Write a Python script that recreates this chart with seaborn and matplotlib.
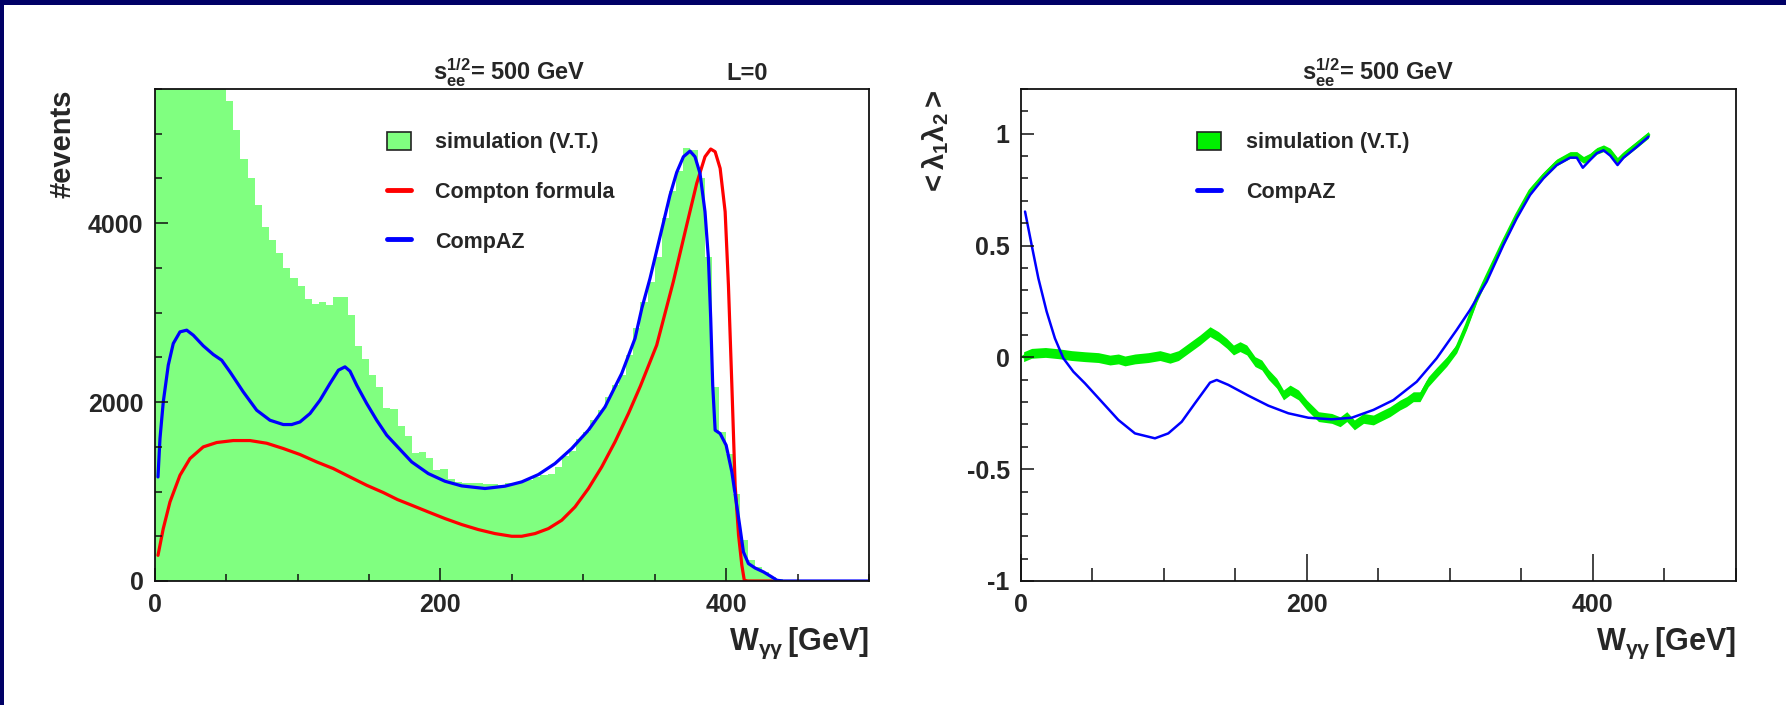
import numpy as np
import pandas as pd
import seaborn as sns
import matplotlib
matplotlib.use("Agg")
import matplotlib.pyplot as plt
from matplotlib.ticker import MultipleLocator, FuncFormatter
from matplotlib.patches import Patch, Rectangle
from matplotlib.lines import Line2D

# ---------------- data ----------------
# photon-photon invariant mass histogram, 5 GeV bins from 0 to 500 GeV
bin_edges = np.arange(0, 505, 5)
sim_counts = [9800, 8900, 8200, 7600, 7100, 6700, 6300, 6000, 5800, 5600,
              5366, 5041, 4717, 4508, 4203, 3956, 3811, 3662, 3498, 3382,
              3293, 3151, 3091, 3114, 3088, 3174, 3174, 2972, 2629, 2487,
              2308, 2170, 1935, 1928, 1734, 1619, 1432, 1443, 1376, 1246,
              1250, 1145, 1108, 1100, 1100, 1090, 1086, 1079, 1071, 1090,
              1100, 1115, 1133, 1163, 1189, 1200, 1275, 1398, 1450, 1592,
              1667, 1797, 1909, 2058, 2189, 2301, 2525, 2823, 3121, 3345,
              3624, 4053, 4359, 4583, 4844, 4818, 4508, 3624, 2170, 1667,
              1425, 977, 455, 232, 157, 101, 45, 19, 0, 0,
              0, 0, 0, 0, 0, 0, 0, 0, 0, 0]

compaz_x = [2.3, 3.7, 6.0, 9.5, 13.0, 17.7, 22.4, 27.0, 34.0, 41.0, 46.9, 52.7,
            62.0, 71.4, 80.7, 90.0, 95.9, 101.7, 108.7, 115.7, 122.7, 128.6,
            133.2, 136.7, 141.4, 148.4, 155.4, 162.4, 170.0, 179.9, 191.5,
            203.2, 214.9, 231.2, 245.2, 256.9, 268.6, 280.2, 291.9, 303.6,
            315.2, 326.9, 336.2, 341.0, 346.7, 353.7, 360.7, 365.4, 370.1,
            374.7, 378.2, 381.7, 385.2, 387.6, 389.2, 390.6, 392.3, 395.8,
            400.0, 404.0, 407.4, 409.8, 412.1, 415.6, 420.3, 426.2, 432.0,
            435.6, 440.0, 500.0]
compaz_y = [1163, 1593, 2002, 2413, 2655, 2785, 2804, 2748, 2629, 2532, 2468, 2338,
            2114, 1909, 1797, 1749, 1749, 1778, 1872, 2021, 2208, 2357,
            2394, 2346, 2189, 1984, 1797, 1630, 1500, 1331, 1201,
            1115, 1063, 1034, 1060, 1108, 1190, 1313, 1481, 1686,
            1946, 2320, 2711, 3050, 3382, 3848, 4314, 4568, 4743,
            4806, 4743, 4557, 4128, 3606, 2935, 2189, 1686, 1648,
            1518, 1219, 847, 586, 324, 195, 145, 101, 45,
            8, 0, 0]

compton_x = [2.3, 6.0, 10.7, 17.7, 24.7, 34.0, 43.4, 55.0, 66.7, 78.4, 90.0, 101.7,
             113.4, 125.0, 136.7, 148.4, 160.0, 170.0, 179.9, 191.5, 203.2, 214.9,
             226.5, 238.2, 249.9, 256.9, 266.2, 275.6, 284.9, 294.2, 303.6, 312.9,
             322.2, 331.6, 340.0, 351.4, 363.0, 372.4, 379.4, 385.2, 389.2, 392.3,
             395.8, 399.3, 401.6, 404.0, 406.3, 408.7, 411.0, 412.7, 415.0, 432.0]
compton_y = [287, 586, 884, 1182, 1369, 1499, 1548, 1570, 1570, 1540, 1481, 1414,
             1331, 1257, 1163, 1070, 989, 910, 847, 772, 698, 631,
             575, 530, 500, 500, 530, 586, 679, 828, 1034, 1275,
             1555, 1872, 2180, 2637, 3345, 3979, 4445, 4743, 4829, 4799,
             4613, 4128, 3308, 2189, 1070, 511, 176, 8, 0, 0]

# mean helicity product <lambda1 lambda2>
pol_sim_x = [1.9, 7.5, 17.2, 26.6, 35.5, 44.8, 54.2, 62.3, 68.2, 72.8, 79.8, 89.1,
             97.3, 104.3, 110.2, 117.1, 125.3, 132.3, 138.2, 144.0, 148.7, 153.3,
             158.0, 163.8, 168.5, 173.1, 179.0, 183.7, 188.3, 194.2, 200.0, 208.2,
             217.5, 223.3, 228.0, 233.3, 239.7, 246.6, 251.2, 258.2, 265.2, 269.8,
             274.5, 279.2, 285.0, 290.9, 297.9, 304.9, 311.9, 318.9, 325.9, 337.6,
             346.9, 356.2, 365.6, 374.9, 384.2, 388.9, 393.6, 398.3, 402.9, 407.6,
             412.3, 417.4, 421.6, 431.0, 439.1]
pol_sim_y = [0.003, 0.018, 0.022, 0.016, 0.008, 0.003, -0.001, -0.012, -0.007, -0.016,
             -0.007, -0.001, 0.008, -0.004, 0.008, 0.040, 0.078, 0.115, 0.093, 0.063,
             0.033, 0.048, 0.033, -0.019, -0.034, -0.076, -0.116, -0.168, -0.146,
             -0.168, -0.213, -0.265, -0.273, -0.288, -0.265, -0.302, -0.273, -0.280,
             -0.265, -0.243, -0.213, -0.198, -0.176, -0.176, -0.109, -0.067, -0.019,
             0.040, 0.145, 0.264, 0.361, 0.518, 0.637, 0.744, 0.813, 0.872, 0.905,
             0.905, 0.883, 0.898, 0.923, 0.935, 0.920, 0.878, 0.905, 0.953, 0.995]
pol_sim_err = [0.022, 0.022, 0.022, 0.022, 0.022, 0.022, 0.022, 0.022, 0.022, 0.022,
               0.022, 0.022, 0.022, 0.022, 0.022, 0.022, 0.022, 0.022, 0.022, 0.022,
               0.022, 0.022, 0.022, 0.022, 0.022, 0.022, 0.022, 0.022, 0.022, 0.022,
               0.022, 0.022, 0.022, 0.022, 0.022, 0.022, 0.022, 0.022, 0.022, 0.022,
               0.022, 0.022, 0.022, 0.022, 0.022, 0.022, 0.021, 0.020, 0.019, 0.018,
               0.017, 0.016, 0.015, 0.015, 0.015, 0.015, 0.015, 0.015, 0.015, 0.015,
               0.015, 0.015, 0.015, 0.015, 0.015, 0.015, 0.015]

pol_compaz_x = [2.9, 7.5, 12.2, 18.0, 23.8, 29.7, 36.7, 44.8, 56.5, 68.2, 79.8, 93.8,
                103.1, 112.5, 121.8, 132.3, 137.0, 145.1, 159.1, 173.1, 187.1, 201.1,
                217.4, 231.4, 246.6, 260.6, 276.9, 290.9, 304.9, 314.2, 325.9, 337.6,
                346.9, 356.2, 365.6, 374.9, 384.2, 388.9, 393.1, 398.3, 402.9, 407.6,
                412.3, 417.4, 421.6, 431.0, 439.1]
pol_compaz_y = [0.652, 0.503, 0.354, 0.205, 0.085, -0.004, -0.064, -0.116, -0.198,
                -0.280, -0.340, -0.362, -0.340, -0.288, -0.205, -0.113, -0.101, -0.123,
                -0.171, -0.216, -0.250, -0.270, -0.277, -0.270, -0.235, -0.191, -0.109,
                -0.004, 0.123, 0.212, 0.339, 0.503, 0.622, 0.726, 0.801, 0.860, 0.893,
                0.893, 0.848, 0.883, 0.913, 0.926, 0.902, 0.860, 0.893, 0.942, 0.987]

x_ticks = [0, 200, 400]
legend_left = ["simulation (V.T.)", "Compton formula", "CompAZ"]
legend_right = ["simulation (V.T.)", "CompAZ"]

# ---------------- style ----------------
sns.set_style("white")
plt.rcParams["font.family"] = ["Liberation Sans", "DejaVu Sans"]
plt.rcParams["font.weight"] = "bold"
plt.rcParams["mathtext.fontset"] = "custom"
plt.rcParams["mathtext.rm"] = "Liberation Sans"
plt.rcParams["mathtext.it"] = "Liberation Sans:italic"
plt.rcParams["mathtext.bf"] = "Liberation Sans:bold"

HIST_GREEN = "#80ff80"
BAND_GREEN = "#00f000"
BLUE = "#0000ff"
RED = "#ff0000"

fig = plt.figure(figsize=(17.86, 7.05), dpi=100)
fig.patch.set_facecolor("white")
W, H = 1786.0, 705.0
ax1 = fig.add_axes([154.7 / W, 124 / H, 714.3 / W, 492 / H])
ax2 = fig.add_axes([1020.9 / W, 124 / H, 714.7 / W, 492 / H])

# frame on the page
fig.add_artist(Rectangle((0, 1 - 5 / H), 1, 5 / H, transform=fig.transFigure,
                         color="#000066", lw=0, zorder=10))
fig.add_artist(Rectangle((0, 0), 4 / W, 1, transform=fig.transFigure,
                         color="#000066", lw=0, zorder=10))

# ---------------- left: event distribution ----------------
centers = 0.5 * (bin_edges[:-1] + bin_edges[1:])
hist_df = pd.DataFrame({"W": centers, "n": sim_counts})
sns.histplot(data=hist_df, x="W", weights="n", binwidth=5, binrange=(0, 500),
             element="step", fill=True, color=HIST_GREEN, alpha=1.0,
             linewidth=0, ax=ax1)
sns.lineplot(x=compton_x, y=compton_y, color=RED, lw=2.3, ax=ax1,
             estimator=None, sort=False, legend=False)
sns.lineplot(x=compaz_x, y=compaz_y, color=BLUE, lw=2.3, ax=ax1,
             estimator=None, sort=False, legend=False)
ax1.set_xlim(0, 500)
ax1.set_ylim(0, 5500)
ax1.xaxis.set_major_locator(MultipleLocator(200))
ax1.xaxis.set_minor_locator(MultipleLocator(50))
ax1.yaxis.set_major_locator(MultipleLocator(2000))
ax1.yaxis.set_minor_locator(MultipleLocator(500))

# ---------------- right: helicity correlation ----------------
ax2.fill_between(pol_sim_x, np.array(pol_sim_y) - np.array(pol_sim_err),
                 np.array(pol_sim_y) + np.array(pol_sim_err),
                 color=BAND_GREEN, lw=0)
sns.lineplot(x=pol_sim_x, y=pol_sim_y, color=BAND_GREEN, lw=2.5, ax=ax2,
             estimator=None, sort=False, legend=False)
sns.lineplot(x=pol_compaz_x, y=pol_compaz_y, color=BLUE, lw=1.8, ax=ax2,
             estimator=None, sort=False, legend=False)
ax2.set_xlim(0, 500)
ax2.set_ylim(-1, 1.2)
ax2.xaxis.set_major_locator(MultipleLocator(200))
ax2.xaxis.set_minor_locator(MultipleLocator(50))
ax2.yaxis.set_major_locator(MultipleLocator(0.5))
ax2.yaxis.set_minor_locator(MultipleLocator(0.1))
ax2.yaxis.set_major_formatter(FuncFormatter(lambda v, p: "%g" % v))

for ax, xmaj, xmin in ((ax1, 9.7, 4.8), (ax2, 19.4, 9.7)):
    ax.set_axisbelow(False)
    ax.set_xlabel("")
    ax.set_ylabel("")
    for s in ax.spines.values():
        s.set_linewidth(1.3)
        s.set_color("#111111")
        s.set_zorder(5)
    ax.tick_params(axis="x", which="major", direction="in", length=xmaj, width=1.1,
                   labelsize=18, pad=9, bottom=True, top=False, color="#111111")
    ax.tick_params(axis="x", which="minor", direction="in", length=xmin, width=1.1,
                   bottom=True, top=False, color="#111111")
    ax.tick_params(axis="y", which="major", direction="in", length=9.1, width=1.1,
                   labelsize=18, pad=8, left=True, right=False, color="#111111")
    ax.tick_params(axis="y", which="minor", direction="in", length=5, width=1.1,
                   left=True, right=False, color="#111111")
    ax.set_xticks(x_ticks)
    for lab in ax.get_xticklabels() + ax.get_yticklabels():
        lab.set_fontweight("bold")
    ax.text(1.0, -0.140, r"$\mathbf{W}_{\mathrm{γγ}}\,[\mathbf{GeV}]$",
            transform=ax.transAxes, ha="right", va="baseline", fontsize=22)

title = r"$\mathbf{s}_{\mathbf{ee}}^{\mathbf{1/2}}$= 500 GeV"
ax1.text(0.497, 1.018, title, transform=ax1.transAxes, ha="center",
         va="baseline", fontsize=17, fontweight="bold")
ax1.text(0.829, 1.018, "L=0", transform=ax1.transAxes, ha="center",
         va="baseline", fontsize=17, fontweight="bold")
ax2.text(0.5, 1.018, title, transform=ax2.transAxes, ha="center",
         va="baseline", fontsize=17, fontweight="bold")

ax1.text(-0.110, 1.0, "#events", transform=ax1.transAxes, rotation=90,
         ha="right", va="top", fontsize=21, fontweight="bold")
ax2.text(-0.098, 1.0, r"$\mathrm{<λ}_{\mathbf{1}}\mathrm{λ}_{\mathbf{2}}\mathrm{>}$",
         transform=ax2.transAxes, rotation=90, ha="right", va="top", fontsize=21)

# legends
h_left = [Patch(facecolor=HIST_GREEN, edgecolor="#222222", lw=1.2),
          Line2D([], [], color=RED, lw=3.5),
          Line2D([], [], color=BLUE, lw=3.5)]
ax1.legend(h_left, legend_left, loc="upper left", bbox_to_anchor=(0.325, 0.913),
           frameon=False, prop={"weight": "bold", "size": 15.5}, handlelength=1.1,
           handleheight=0.95, handletextpad=1.15, labelspacing=1.3, borderpad=0,
           borderaxespad=0)
h_right = [Patch(facecolor=BAND_GREEN, edgecolor="#222222", lw=1.2),
           Line2D([], [], color=BLUE, lw=3.5)]
ax2.legend(h_right, legend_right, loc="upper left", bbox_to_anchor=(0.247, 0.913),
           frameon=False, prop={"weight": "bold", "size": 15.5}, handlelength=1.1,
           handleheight=0.95, handletextpad=1.15, labelspacing=1.3, borderpad=0,
           borderaxespad=0)

fig.savefig("out.png", dpi=100)
